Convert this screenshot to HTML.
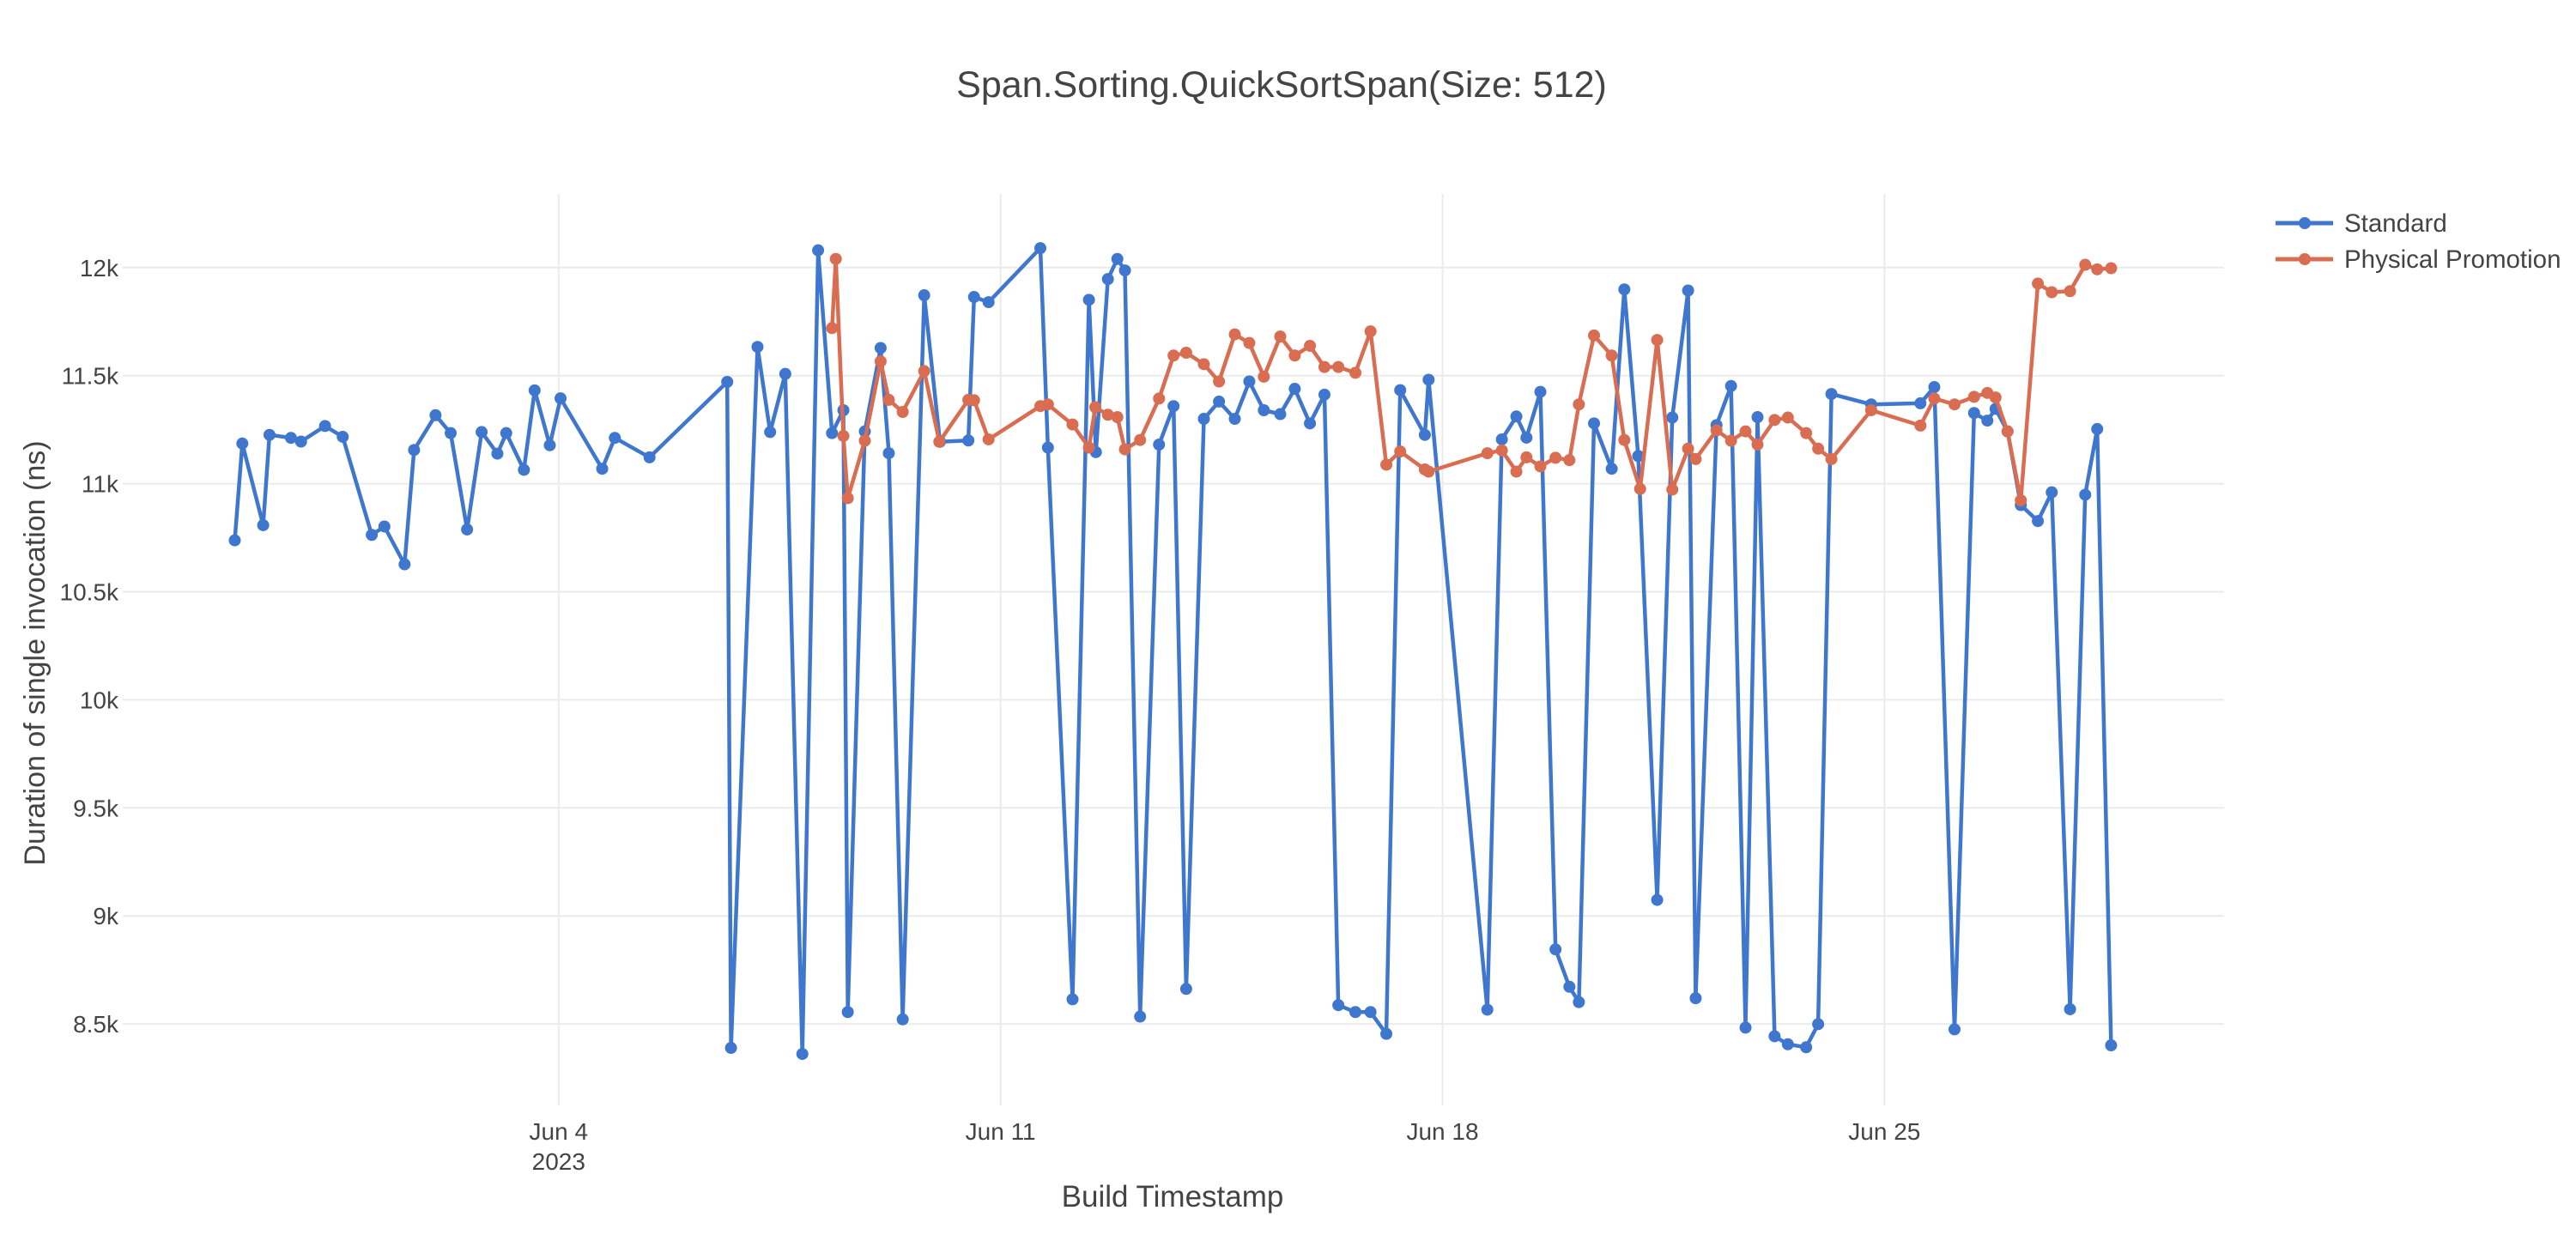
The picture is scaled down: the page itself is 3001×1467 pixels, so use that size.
<!DOCTYPE html>
<html><head><meta charset="utf-8">
<style>
html,body{margin:0;padding:0;background:#fff;}
svg{display:block;font-family:"Liberation Sans",sans-serif;}
</style></head>
<body>
<svg id="chart" width="3001" height="1467" viewBox="0 0 3001 1467" xmlns="http://www.w3.org/2000/svg">
<rect x="0" y="0" width="3001" height="1467" fill="#fff"/>
<text x="1493" y="113" text-anchor="middle" font-size="43" fill="#444">Span.Sorting.QuickSortSpan(Size: 512)</text>
<g id="grid"></g>
<g id="series"></g>
<text x="1366" y="1406" text-anchor="middle" font-size="35" fill="#444">Build Timestamp</text>
<text transform="translate(52,761) rotate(-90)" text-anchor="middle" font-size="34" fill="#444">Duration of single invocation (ns)</text>
<g>
<g>
<line x1="2651" y1="260" x2="2718" y2="260" stroke="#3f77cf" stroke-width="5"/>
<circle cx="2685" cy="260" r="7" fill="#3f77cf"/>
<text x="2731" y="270" font-size="29.5" fill="#444">Standard</text>
</g>
<g>
<line x1="2651" y1="302" x2="2718" y2="302" stroke="#d96d52" stroke-width="5"/>
<circle cx="2685" cy="302" r="7" fill="#d96d52"/>
<text x="2731" y="312" font-size="29.5" fill="#444">Physical Promotion</text>
</g>
</g>
</svg>
<script>
// days since May 28, 2023
const stdDays=[1.87,1.99,2.32,2.42,2.76,2.92,3.30,3.58,4.04,4.24,4.56,4.71,5.05,5.29,5.55,5.78,6.03,6.17,6.45,6.62,6.86,7.03,7.69,7.89,8.44,9.67,9.73,10.15,10.35,10.59,10.86,11.11,11.33,11.51,11.58,11.85,12.10,12.23,12.45,12.79,13.04,13.49,13.58,13.81,14.63,14.75,15.14,15.40,15.51,15.70,15.85,15.97,16.21,16.51,16.74,16.94,17.22,17.46,17.71,17.94,18.17,18.43,18.66,18.90,19.13,19.35,19.62,19.86,20.11,20.33,20.72,20.78,21.71,21.94,22.17,22.33,22.55,22.79,23.01,23.16,23.40,23.68,23.88,24.10,24.40,24.64,24.89,25.01,25.34,25.57,25.80,25.99,26.26,26.47,26.76,26.95,27.16,27.79,28.57,28.79,29.11,29.42,29.63,29.76,29.95,30.16,30.43,30.65,30.94,31.18,31.37,31.59];
const stdValues=[10738,11186,10808,11226,11212,11195,11267,11217,10763,10802,10627,11156,11317,11234,10788,11239,11139,11234,11064,11432,11178,11395,11069,11212,11122,11471,8389,11633,11239,11508,8361,12080,11234,11340,8555,11242,11628,11141,8521,11872,11194,11200,11864,11840,12090,11167,8614,11851,11146,11947,12040,11987,8534,11181,11359,8662,11300,11380,11300,11473,11340,11322,11439,11279,11412,8587,8555,8555,8454,11433,11226,11481,8566,11205,11311,11213,11425,8845,8672,8601,11279,11069,11899,11128,9074,11306,11894,8619,11271,11452,8483,11308,8443,8406,8392,8499,11415,11367,11372,11447,8475,11327,11292,11346,11242,10901,10827,10960,8568,10949,11253,8401];
const ppDays=[11.33,11.39,11.51,11.58,11.85,12.10,12.23,12.45,12.79,13.03,13.49,13.58,13.81,14.63,14.75,15.14,15.40,15.50,15.70,15.85,15.97,16.21,16.51,16.74,16.94,17.22,17.46,17.71,17.94,18.17,18.43,18.66,18.90,19.13,19.35,19.62,19.86,20.11,20.33,20.72,20.78,21.71,21.94,22.17,22.33,22.55,22.79,23.01,23.16,23.40,23.68,23.88,24.13,24.40,24.64,24.89,25.01,25.34,25.57,25.80,25.99,26.26,26.47,26.76,26.95,27.16,27.79,28.57,28.79,29.11,29.42,29.63,29.76,29.95,30.16,30.43,30.65,30.94,31.18,31.37,31.59];
const ppValues=[11720,12040,11221,10933,11199,11566,11388,11332,11521,11194,11388,11386,11205,11359,11367,11274,11167,11354,11319,11308,11159,11202,11394,11593,11606,11553,11473,11691,11651,11495,11681,11593,11638,11540,11540,11513,11705,11088,11149,11066,11056,11141,11154,11056,11122,11080,11120,11109,11367,11686,11593,11202,10976,11665,10973,11162,11114,11247,11199,11242,11181,11295,11306,11234,11162,11114,11340,11269,11394,11367,11402,11420,11399,11242,10923,11926,11886,11891,12013,11992,11997];
const yTickValues=[8500,9000,9500,10000,10500,11000,11500,12000];
const yTickLabels=["8.5k","9k","9.5k","10k","10.5k","11k","11.5k","12k"];
const xTickDays=[7,14,21,28];
const xTickLabels=["Jun 4","Jun 11","Jun 18","Jun 25"];

const PL=143,PR=2591,PT=226,PB=1288;
function xs(d){return 650.8+(d-7)*73.55;}
function ys(v){return 311.8+(12000-v)*0.2518;}
const NS="http://www.w3.org/2000/svg";
function mk(tag,attrs,parent){const e=document.createElementNS(NS,tag);for(const k in attrs)e.setAttribute(k,attrs[k]);parent.appendChild(e);return e;}
const grid=document.getElementById('grid');
yTickValues.forEach((v,i)=>{
  const l=mk('line',{x1:PL,x2:PR,y1:ys(v),y2:ys(v),stroke:'#ebebeb','stroke-width':2},grid);
  
  
  const t=mk('text',{x:138,y:ys(v)+10,'text-anchor':'end','font-size':28,fill:'#444'},grid);
  t.textContent=yTickLabels[i];
  
  
});
xTickDays.forEach((d,i)=>{
  const l=mk('line',{x1:xs(d),x2:xs(d),y1:PT,y2:PB,stroke:'#ebebeb','stroke-width':2},grid);
  
  
  const t=mk('text',{x:xs(d),y:1328,'text-anchor':'middle','font-size':28,fill:'#444'},grid);
  t.textContent=xTickLabels[i];
  
  
});
const yr=mk('text',{x:xs(7),y:1363,'text-anchor':'middle','font-size':28,fill:'#444'},grid);
yr.textContent="2023";



const series=document.getElementById('series');
function draw(days,vals,color,name){
  const g=mk('g',{},series);
  
  
  const pts=days.map((d,i)=>xs(d).toFixed(1)+','+ys(vals[i]).toFixed(1)).join(' ');
  const pl=mk('polyline',{points:pts,fill:'none',stroke:color,'stroke-width':4.5,'stroke-linejoin':'round'},g);
  
  
  days.forEach((d,i)=>{
    const c=mk('circle',{cx:xs(d),cy:ys(vals[i]),r:7,fill:color},g);
    
    
  });
}
draw(stdDays,stdValues,'#3f77cf','standard');
draw(ppDays,ppValues,'#d96d52','physical-promotion');
</script>
</body></html>
